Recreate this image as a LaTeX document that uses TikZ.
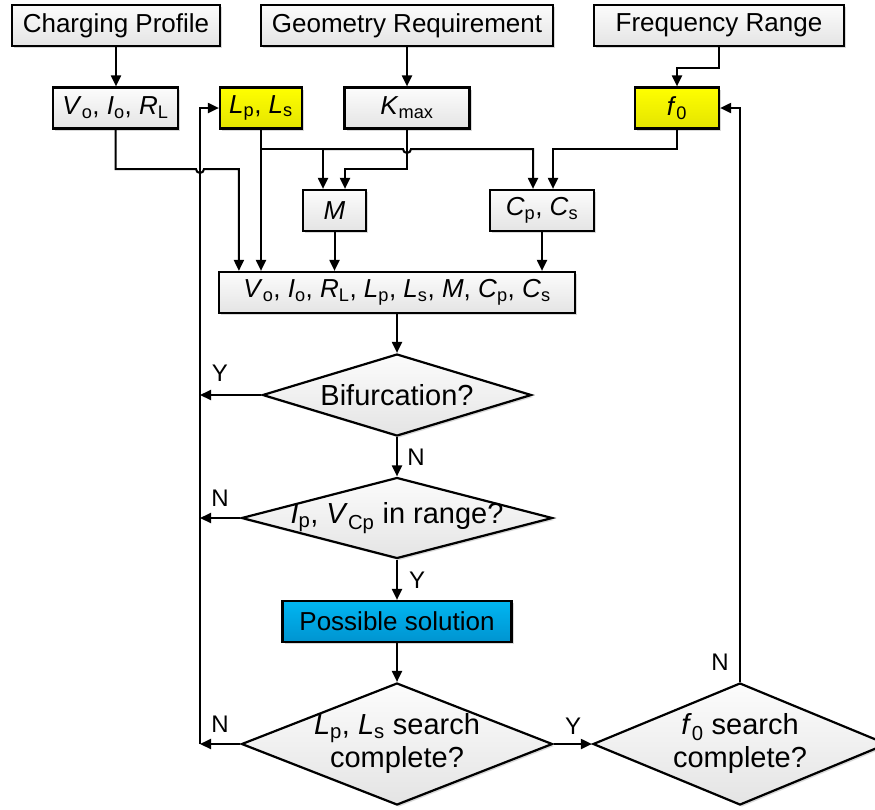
\documentclass[tikz,border=0pt]{standalone}
\usepackage{fontspec}
\setmainfont{Liberation Sans}
\usetikzlibrary{arrows.meta,shapes.geometric,shadows,calc}

\definecolor{boxtop}{RGB}{252,252,252}
\definecolor{boxbot}{RGB}{228,228,228}
\definecolor{ytop}{RGB}{255,255,0}
\definecolor{ybot}{RGB}{228,228,0}
\definecolor{btop}{RGB}{0,182,242}
\definecolor{bbot}{RGB}{0,148,208}

% italic symbol with upright subscript
\newcommand{\qsym}[2]{\textit{#1}\textsubscript{#2}}

\tikzset{
  boxfont/.style={font=\fontsize{26}{30}\selectfont},
  decfont/.style={font=\fontsize{29}{35}\selectfont},
  lblfont/.style={font=\fontsize{24}{28}\selectfont},
  shade/.style={drop shadow={shadow xshift=2pt,shadow yshift=-2pt,opacity=0.25,fill=black!60}},
  stepbox/.style={draw, line width=2.2pt, rectangle, inner sep=0pt,
    minimum height=41pt, top color=boxtop, bottom color=boxbot, shade, boxfont},
  ybox/.style={stepbox, top color=ytop, bottom color=ybot},
  bbox/.style={stepbox, top color=btop, bottom color=bbot},
  decision/.style={draw, line width=2.2pt, shape=diamond, inner sep=0pt,
    top color=boxtop, bottom color=boxbot, shade, decfont},
  arr/.style={line width=2pt, -{Triangle[length=11pt,width=10pt]}},
  lbl/.style={lblfont, inner sep=0pt},
}

\begin{document}
\begin{tikzpicture}[x=1pt,y=-1pt]
\useasboundingbox (0,0) rectangle (875,809);
\clip (0,0) rectangle (875,809);

% top row: input specifications
\node[stepbox, minimum width=208pt] (cp)   at (116,25.5) {Charging Profile};
\node[stepbox, minimum width=292pt] (geo)  at (407,25.5) {Geometry Requirement};
\node[stepbox, minimum width=250pt] (freq) at (719,25.5) {Frequency Range};

% second row: derived quantities
\node[stepbox, minimum width=125pt] (vo)   at (115.5,108) {\qsym{V}{o}, \qsym{I}{o}, \qsym{R}{L}};
\node[ybox,    minimum width=82pt]  (lpls) at (261,108)   {\qsym{L}{p}, \qsym{L}{s}};
\node[stepbox, minimum width=125pt] (kmax) at (407,108)   {\qsym{K}{max}};
\node[ybox,    minimum width=84pt]  (f0)   at (677,108)   {\qsym{f}{0}};

% third row
\node[stepbox, minimum width=63pt]  (M)    at (334.5,210.5) {\textit{M}};
\node[stepbox, minimum width=104pt] (cpcs) at (542,210.5)   {\qsym{C}{p}, \qsym{C}{s}};

% full parameter set
\node[stepbox, minimum width=356pt] (big) at (397,292.5)
  {\qsym{V}{o}, \qsym{I}{o}, \qsym{R}{L}, \qsym{L}{p}, \qsym{L}{s}, \textit{M}, \qsym{C}{p}, \qsym{C}{s}};

% checks
\node[decision, minimum width=269pt, minimum height=82pt] (bif) at (397,395)
  {\makebox[0pt]{Bifurcation?}};
\node[decision, minimum width=311pt, minimum height=81pt] (ip) at (397,518)
  {\makebox[0pt]{\qsym{I}{p}, \qsym{V}{Cp} in range?}};
\node[bbox, minimum width=229pt] (pos) at (397,621.5) {Possible solution};
\node[decision, minimum width=311pt, minimum height=122pt] (lpd) at (397,744)
  {\makebox[0pt]{\begin{tabular}{@{}c@{}}\qsym{L}{p}, \qsym{L}{s} search\\[-2pt]complete?\end{tabular}}};
\node[decision, minimum width=294pt, minimum height=122pt] (f0d) at (740,744)
  {\makebox[0pt]{\begin{tabular}{@{}c@{}}\qsym{f}{0} search\\[-2pt]complete?\end{tabular}}};

% routing rows and the return column
\coordinate (r1) at (0,149);
\coordinate (r2) at (0,169);
\coordinate (loopx) at (200,0);

% inputs to derived quantities
\draw[arr] (cp.south) -- (cp.south |- vo.north);
\draw[arr] (geo.south) -- (geo.south |- kmax.north);
\draw[arr] (freq.south) -- ++(0,21) -| (f0.north);

% into M and Cp, Cs
\draw[arr] (lpls.south |- r1) -| ([xshift=-11.5pt]M.north);
\draw[arr] ([xshift=-11.5pt]M.north |- r1) -- ($(kmax.south |- r1)+(-4,0)$)
  arc (180:0:4) -| ([xshift=-9pt]cpcs.north);
\draw[arr] (kmax.south) |- ([xshift=10.5pt]M.north |- r2) -- ([xshift=10.5pt]M.north);
\draw[arr] (f0.south) |- ([xshift=11pt]cpcs.north |- r1) -- ([xshift=11pt]cpcs.north);

% into the full parameter set
\draw[arr] (vo.south) |- ($(loopx |- r2)+(-4,0)$) arc (180:0:4)
  -| ([xshift=21pt]big.north west);
\draw[arr] (lpls.south) -- (lpls.south |- big.north);
\draw[arr] (M.south) -- (M.south |- big.north);
\draw[arr] (cpcs.south) -- (cpcs.south |- big.north);

% main flow
\draw[arr] (big.south) -- (bif.north);
\draw[arr] (bif.south) -- (ip.north);
\draw[arr] (ip.south) -- (pos.north);
\draw[arr] (pos.south) -- (lpd.north);
\draw[arr] (lpd.east) -- (f0d.west);

% rejections back to the next L_p, L_s
\draw[arr] (bif.west) -- (bif.west -| loopx);
\draw[arr] (ip.west) -- (ip.west -| loopx);
\draw[arr] (lpd.west) -- (lpd.west -| loopx);
\draw[arr] (lpd.west -| loopx) -- (lpls.west -| loopx) -- (lpls.west);

% next f_0
\draw[arr] (f0d.north) |- (f0.east);

% branch labels
\node[lbl] (lbifY) at (220,373) {Y};
\node[lbl] (lbifN) at (416,457) {N};
\node[lbl] (lipN)  at (220,498) {N};
\node[lbl] (lipY)  at (417,580) {Y};
\node[lbl] (llpN)  at (220,724) {N};
\node[lbl] (llpY)  at (573,726) {Y};
\node[lbl] (lf0N)  at (720,662) {N};
\end{tikzpicture}
\end{document}
